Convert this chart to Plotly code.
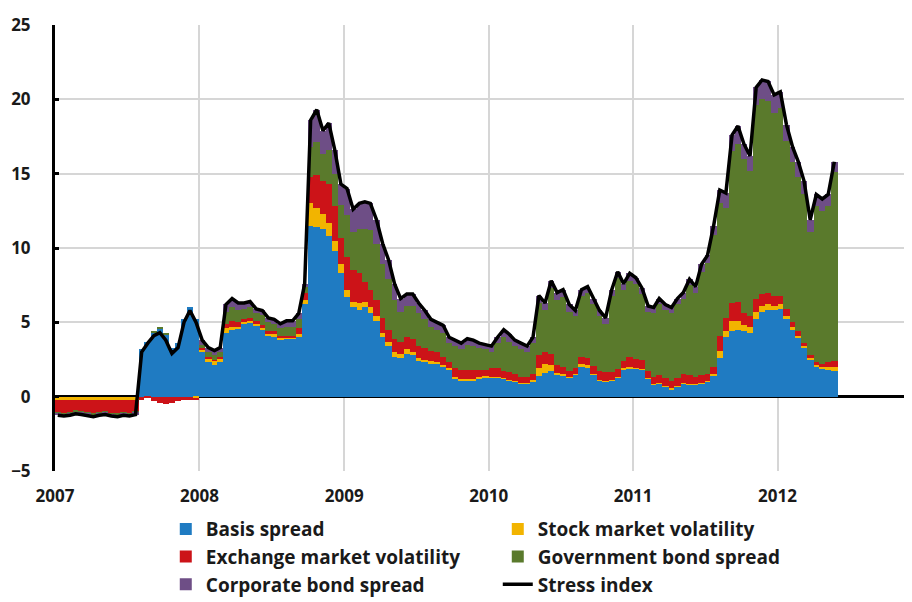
import plotly.graph_objects as go
import pandas as pd

# half-monthly observation dates (1st and 15th), Jan 2007 - May 2012
dates = []
for y in range(2007, 2013):
    for m in range(1, 13):
        for d in (1, 15):
            dates.append(f"{y}-{m:02d}-{d:02d}")
dates = dates[:130]

basis = [0]*14 + [3.2, 3.7, 4.3, 4.6, 4.2, 3.3, 3.6, 5.2, 6.0, 5.2] + \
    [3.0, 2.3, 2.1, 2.3, 4.3, 4.5, 4.6, 4.9, 5.0, 4.8, 4.5, 4.1, 4.0, 3.8, 3.9, 3.9, 4.0, 6.2, 11.5, 11.4, 11.3, 10.8, 9.8, 8.3] + \
    [6.7, 6.0, 5.8, 6.0, 5.6, 5.1, 4.0, 3.4, 2.7, 2.6, 2.9, 2.8, 2.4, 2.3, 2.2, 2.2, 2.0, 1.8, 1.2, 1.1, 1.1, 1.1, 1.2, 1.3] + \
    [1.3, 1.3, 1.2, 1.1, 1.0, 0.9, 0.9, 1.0, 1.4, 1.6, 1.7, 1.5, 1.4, 1.3, 1.5, 2.0, 1.9, 1.5, 1.1, 1.0, 1.1, 1.3, 1.8, 1.9] + \
    [1.9, 1.8, 1.2, 0.8, 0.9, 0.7, 0.5, 0.7, 0.9, 0.8, 0.8, 0.9, 1.0, 1.4, 2.6, 4.0, 4.4, 4.5, 4.4, 4.3, 5.2, 5.7, 5.8, 5.8] + \
    [5.9, 5.2, 4.5, 4.0, 3.3, 2.5, 2.0, 1.9, 1.8, 1.7]

stock = [-0.2, -0.2, -0.25, -0.2, -0.2, -0.2, -0.25, -0.2, -0.2, -0.2, -0.25, -0.2, -0.2, -0.2,
         0, 0, 0, 0, 0, 0, 0, 0, 0, -0.1] + \
    [0.2, 0.3, 0.3, 0.3, 0.3, 0.2, 0.1, 0.1, 0.1, 0.1, 0.1, 0.1, 0.2, 0.2, 0.1, 0.1, 0.2, 0.3, 1.5, 1.3, 1.0, 0.9, 0.7, 0.6] + \
    [0.5, 0.4, 0.5, 0.4, 0.4, 0.3, 0.3, 0.3, 0.3, 0.3, 0.3, 0.2, 0.2, 0.2, 0.2, 0.1, 0.1, 0.1, 0.1, 0.1, 0.1, 0.1, 0.1, 0.1] + \
    [.05, .05, .05, .05, .05, .05, .05, .1, .5, .6, .4, .1, .1, .05, .05, .2, .2, .05, .05, .05, .05, .05, .1, .1] + \
    [.05, .05, .05, .05, .05, .05, .05, .05, .05, .05, .05, .05, .05, .1, .5, .4, .7, .6, .4, .4, .5, .4, .4, .3] + \
    [.3, .2, .2, .1, .1, .1, .1, .1, .2, .3]

exchange = [-0.85, -0.9, -0.8, -0.75, -0.8, -0.85, -0.9, -0.85, -0.8, -0.9, -0.9, -0.85, -0.9, -0.8,
            -0.2, -0.1, -0.3, -0.4, -0.5, -0.4, -0.3, -0.2, -0.2, -0.1] + \
    [0.1, 0.1, 0.1, 0.1, 0.3, 0.4, 0.3, 0.2, 0.2, 0.2, 0.2, 0.2, 0.2, 0.1, 0.1, 0.1, 0.4, 0.5, 1.8, 2.2, 2.2, 2.6, 2.3, 1.8] + \
    [2.2, 2.1, 2.0, 1.3, 1.2, 1.1, 1.0, 0.8, 0.9, 0.8, 0.8, 0.9, 0.8, 0.8, 0.7, 0.7, 0.6, 0.4, 0.6, 0.6, 0.6, 0.6, 0.5, 0.4] + \
    [.6, .6, .5, .5, .5, .4, .4, .4, .9, .8, .8, .5, .5, .4, .4, .5, .5, .5, .6, .6, .5, .5, .5, .7] + \
    [.6, .6, .5, .5, .5, .5, .5, .5, .6, .6, .5, .5, .5, .5, 1.0, .9, 1.2, 1.3, .8, .7, .9, .8, .8, .7] + \
    [.6, .5, .3, .3, .2, .2, .2, .2, .3, .4]

gov = [-0.05]*14 + [0, 0, 0.1, 0.1, 0.1, 0, 0, 0, 0, 0] + \
    [0.2, 0.3, 0.3, 0.3, 0.8, 0.9, 0.8, 0.7, 0.7, 0.5, 0.7, 0.6, 0.5, 0.5, 0.6, 0.6, 0.6, 0.4, 2.0, 2.2, 1.8, 2.3, 2.2, 2.2] + \
    [2.8, 2.6, 3.0, 3.6, 4.0, 3.8, 3.6, 3.4, 2.6, 2.0, 2.1, 2.2, 2.2, 1.9, 1.6, 1.5, 1.6, 1.3, 1.5, 1.4, 1.7, 1.6, 1.5, 1.4] + \
    [1.05, 1.65, 2.25, 2.05, 1.85, 1.85, 1.65, 2.1, 3.5, 2.8, 4.4, 4.4, 4.7, 3.95, 3.45, 4.1, 4.4, 4.15, 3.65, 3.25, 5.15, 6.15, 4.8, 5.1] + \
    [5.05, 4.45, 3.95, 4.25, 4.75, 4.55, 4.55, 4.95, 5.05, 6.05, 5.65, 6.95, 7.45, 8.9, 8.9, 7.4, 10.2, 10.6, 10.4, 9.8, 13.0, 13.1, 12.9, 12.3] + \
    [12.6, 11.3, 10.8, 10.4, 10.0, 8.3, 10.5, 10.3, 10.5, 12.7]

corp = [-0.15]*14 + [0]*10 + \
    [0.3, 0.3, 0.3, 0.3, 0.5, 0.6, 0.5, 0.4, 0.4, 0.3, 0.3, 0.3, 0.3, 0.3, 0.4, 0.4, 0.4, 0.2, 1.8, 2.2, 1.6, 1.8, 1.6, 1.4] + \
    [1.8, 1.5, 1.7, 1.8, 1.8, 1.6, 1.4, 1.3, 1.1, 0.9, 0.8, 0.8, 0.7, 0.6, 0.5, 0.5, 0.5, 0.4, 0.4, 0.4, 0.4, 0.4, 0.3, 0.3] + \
    [.4, .4, .5, .5, .4, .4, .4, .4, .5, .5, .5, .5, .5, .5, .4, .4, .4, .4, .4, .4, .4, .4, .4, .5] + \
    [.4, .4, .4, .4, .4, .4, .4, .4, .4, .4, .4, .5, .5, .6, .9, 1.0, 1.1, 1.2, 1.0, 1.0, 1.2, 1.3, 1.3, 1.2] + \
    [1.1, 1.1, 1.0, 1.0, .9, .8, .8, .8, .8, .7]

# the stress index is the sum of the five components
stress = [round(b + s + e + g + c, 2) for b, s, e, g, c in zip(basis, stock, exchange, gov, corp)]

series = [
    ("Basis spread", basis, "#1F7BC2"),
    ("Stock market volatility", stock, "#F2B400"),
    ("Exchange market volatility", exchange, "#CC1318"),
    ("Government bond spread", gov, "#5A7A2C"),
    ("Corporate bond spread", corp, "#6E4E86"),
]

dt = pd.to_datetime(dates)
edges = list(dt) + [pd.Timestamp("2012-06-01")]
widths = [(edges[i + 1] - edges[i]).total_seconds() * 1000 for i in range(len(dt))]
centers = [dt[i] + (edges[i + 1] - edges[i]) / 2 for i in range(len(dt))]

FONT = "Open Sans"
fig = go.Figure()
for name, vals, col in series:
    fig.add_trace(go.Bar(
        x=dt, y=vals, name=name, width=widths, offset=0,
        marker=dict(color=col, line=dict(width=0)),
    ))
fig.add_trace(go.Scatter(
    x=centers, y=stress, name="Stress index", mode="lines",
    line=dict(color="black", width=3.5),
))

fig.update_layout(
    width=912, height=602,
    margin=dict(l=47, r=0, t=17, b=139, autoexpand=False),
    barmode="relative", bargap=0,
    plot_bgcolor="white", paper_bgcolor="white",
    font=dict(family=FONT, size=17, color="#1a1a1a", weight="bold"),
    legend=dict(
        orientation="h", xref="container", yref="container",
        x=0.173, xanchor="left", y=0.166, yanchor="top",
        entrywidth=287, entrywidthmode="pixels",
        font=dict(family=FONT, size=19, color="#1a1a1a", weight="bold"),
        itemwidth=30, bgcolor="rgba(0,0,0,0)",
    ),
    xaxis=dict(
        type="date", range=["2007-01-01", "2012-12-26"],
        tickvals=["2007-01-01", "2008-01-01", "2009-01-01", "2010-01-01", "2011-01-01", "2012-01-01"],
        ticktext=["2007", "2008", "2009", "2010", "2011", "2012"],
        showgrid=True, gridcolor="#d6d6d6", gridwidth=1.5,
        showline=False, ticks="outside", ticklen=10, tickcolor="rgba(0,0,0,0)",
        zeroline=False, automargin=False,
    ),
    yaxis=dict(
        range=[-5, 25], tickvals=[-5, 0, 5, 10, 15, 20, 25],
        showgrid=True, gridcolor="#d6d6d6", gridwidth=1.5,
        showline=True, linecolor="black", linewidth=3,
        ticks="inside", ticklen=4, tickwidth=3, tickcolor="black",
        zeroline=True, zerolinecolor="black", zerolinewidth=3,
        ticklabelstandoff=18, automargin=False,
    ),
)

fig.write_html("out.html")
